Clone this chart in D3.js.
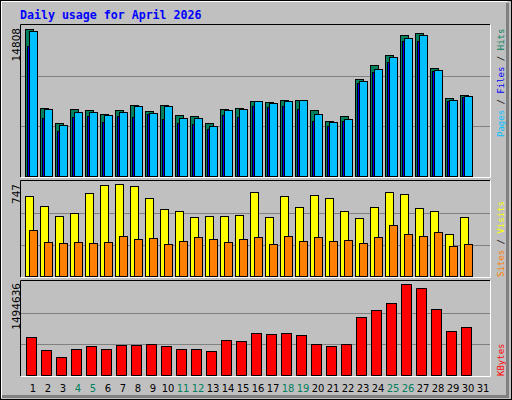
<!DOCTYPE html><html><head><script src="https://cdn.jsdelivr.net/npm/d3@7"></script>
<style>body{margin:0;background:#fff}</style></head><body><script>
const days=d3.range(1,32);
const weekend=[4,5,11,12,18,19,25,26];
const hits=[14808,6850,5340,6750,6650,6245,6650,7150,6545,7150,6145,6040,5340,6750,6850,7550,7450,7650,7650,6650,5540,6040,9770,11180,12190,14200,14400,10880,7855,8160];
const pages=[14640,6720,5120,6420,6420,6120,6420,7020,6330,7020,5820,5820,5020,6620,6720,7520,7320,7520,7620,6220,5420,5720,9570,10820,12020,13920,14180,10720,7620,8020];
const files=[13100,5840,4530,5940,6040,5440,6040,5940,6240,5740,5340,5240,4730,6140,5940,7050,6950,7050,6750,5540,5040,5540,9370,10480,11480,13600,13600,10580,7560,7960];
const visits=[650,568,487,512,674,739,747,731,633,544,528,479,487,487,495,682,479,650,560,658,633,528,471,560,682,666,552,528,341,479];
const sites=[374,276,268,276,268,276,325,300,309,260,284,317,300,276,300,317,260,325,284,317,284,292,268,317,414,341,325,357,244,260];
const kbytes=[627300,414600,300000,431000,480000,431000,496400,496400,512800,480000,431000,431000,398200,578200,561900,692800,676400,692800,660000,512800,480000,512800,954600,1069200,1183700,1494636,1429200,1085500,725500,791000];

const svg=d3.select("body").append("svg").attr("width",512).attr("height",400);
svg.append("rect").attr("width",512).attr("height",400).attr("fill","#C0C0C0");
// bevel frame
svg.append("rect").attr("x",0.5).attr("y",0.5).attr("width",511).attr("height",399).attr("fill","none").attr("stroke","#000");
svg.append("path").attr("d","M1.5,397.5V1.5H507.5").attr("fill","none").attr("stroke","#fff").attr("stroke-width",1);
svg.append("path").attr("d","M2,396.5H507.5V3").attr("fill","none").attr("stroke","#808080").attr("stroke-width",3);

svg.append("text").attr("x",20).attr("y",19).attr("fill","#0000FF").attr("font-family","DejaVu Sans Mono").attr("font-weight","bold").attr("font-size","11.6px").text("Daily usage for April 2026");

const x=d3.scaleLinear().domain([1,31]).range([25,475]);
function panel(y0,y1){
  svg.append("rect").attr("x",21).attr("y",y0).attr("width",469).attr("height",y1-y0).attr("fill","#C0C0C0");
  svg.append("path").attr("d",`M20.5,${y1}V${y0-0.5}H490`).attr("fill","none").attr("stroke","#000");
  svg.append("path").attr("d",`M21,${y1+0.5}H490.5V${y0-0.5}`).attr("fill","none").attr("stroke","#fff");
  for(let k=1;k<=2;k++){const gy=Math.round(y1-(y1-y0)*k/3)+0.5;
    svg.append("line").attr("x1",21).attr("x2",490).attr("y1",gy).attr("y2",gy).attr("stroke","#808080");}
}
function bars(data,y,dx,w,color){
  svg.append("g").selectAll("rect").data(data).join("rect")
   .attr("x",(d,i)=>x(i+1)+dx+0.5).attr("y",d=>Math.round(y(d))+0.5)
   .attr("width",w).attr("height",d=>y(0)-Math.round(y(d)))
   .attr("fill",color).attr("stroke","#000");
}
function ylabel(t,xx,yy){
  svg.append("text").attr("transform",`translate(${xx},${yy}) rotate(-90)`).attr("text-anchor","end")
   .attr("font-family","DejaVu Sans").attr("font-size","10.5px").attr("fill","#000").text(t);
}
function rlabel(parts,yy){
  const t=svg.append("text").attr("transform",`translate(504,${yy}) rotate(-90)`)
   .attr("font-family","DejaVu Sans Mono").attr("font-size","9px");
  parts.forEach(p=>t.append("tspan").attr("fill",p[1]).text(p[0]));
}
// top
panel(25,177);
const yT=d3.scaleLinear().domain([0,14808]).range([176,29]);
bars(hits,yT,0,8,"#00805C");
bars(files,yT,2,8,"#0000FF");
bars(pages,yT,4,8,"#00C0FF");
ylabel("14808",20,28);
rlabel([["Pages","#00C0FF"],[" / ","#000"],["Files","#0000FF"],[" / ","#000"],["Hits","#00805C"]],137);
// middle
panel(181,277);
const yM=d3.scaleLinear().domain([0,747]).range([276,184]);
bars(visits,yM,0,8,"#FFFF00");
bars(sites,yM,4,8,"#FF8000");
ylabel("747",20,184);
rlabel([["Sites","#FF8000"],[" / ","#000"],["Visits","#FFFF00"]],277);
// bottom
panel(281,376);
const yB=d3.scaleLinear().domain([0,1494636]).range([375,284]);
bars(kbytes,yB,1,10,"#FF0000");
ylabel("1494636",20,283);
rlabel([["KBytes","#FF0000"]],376);
// day labels
svg.append("g").selectAll("text").data(days).join("text")
 .attr("x",d=>x(d)+8).attr("y",392).attr("text-anchor","middle")
 .attr("font-family","DejaVu Sans").attr("font-size","10px")
 .attr("fill",d=>weekend.includes(d)?"#00805C":"#000").text(d=>d);
</script></body></html>
